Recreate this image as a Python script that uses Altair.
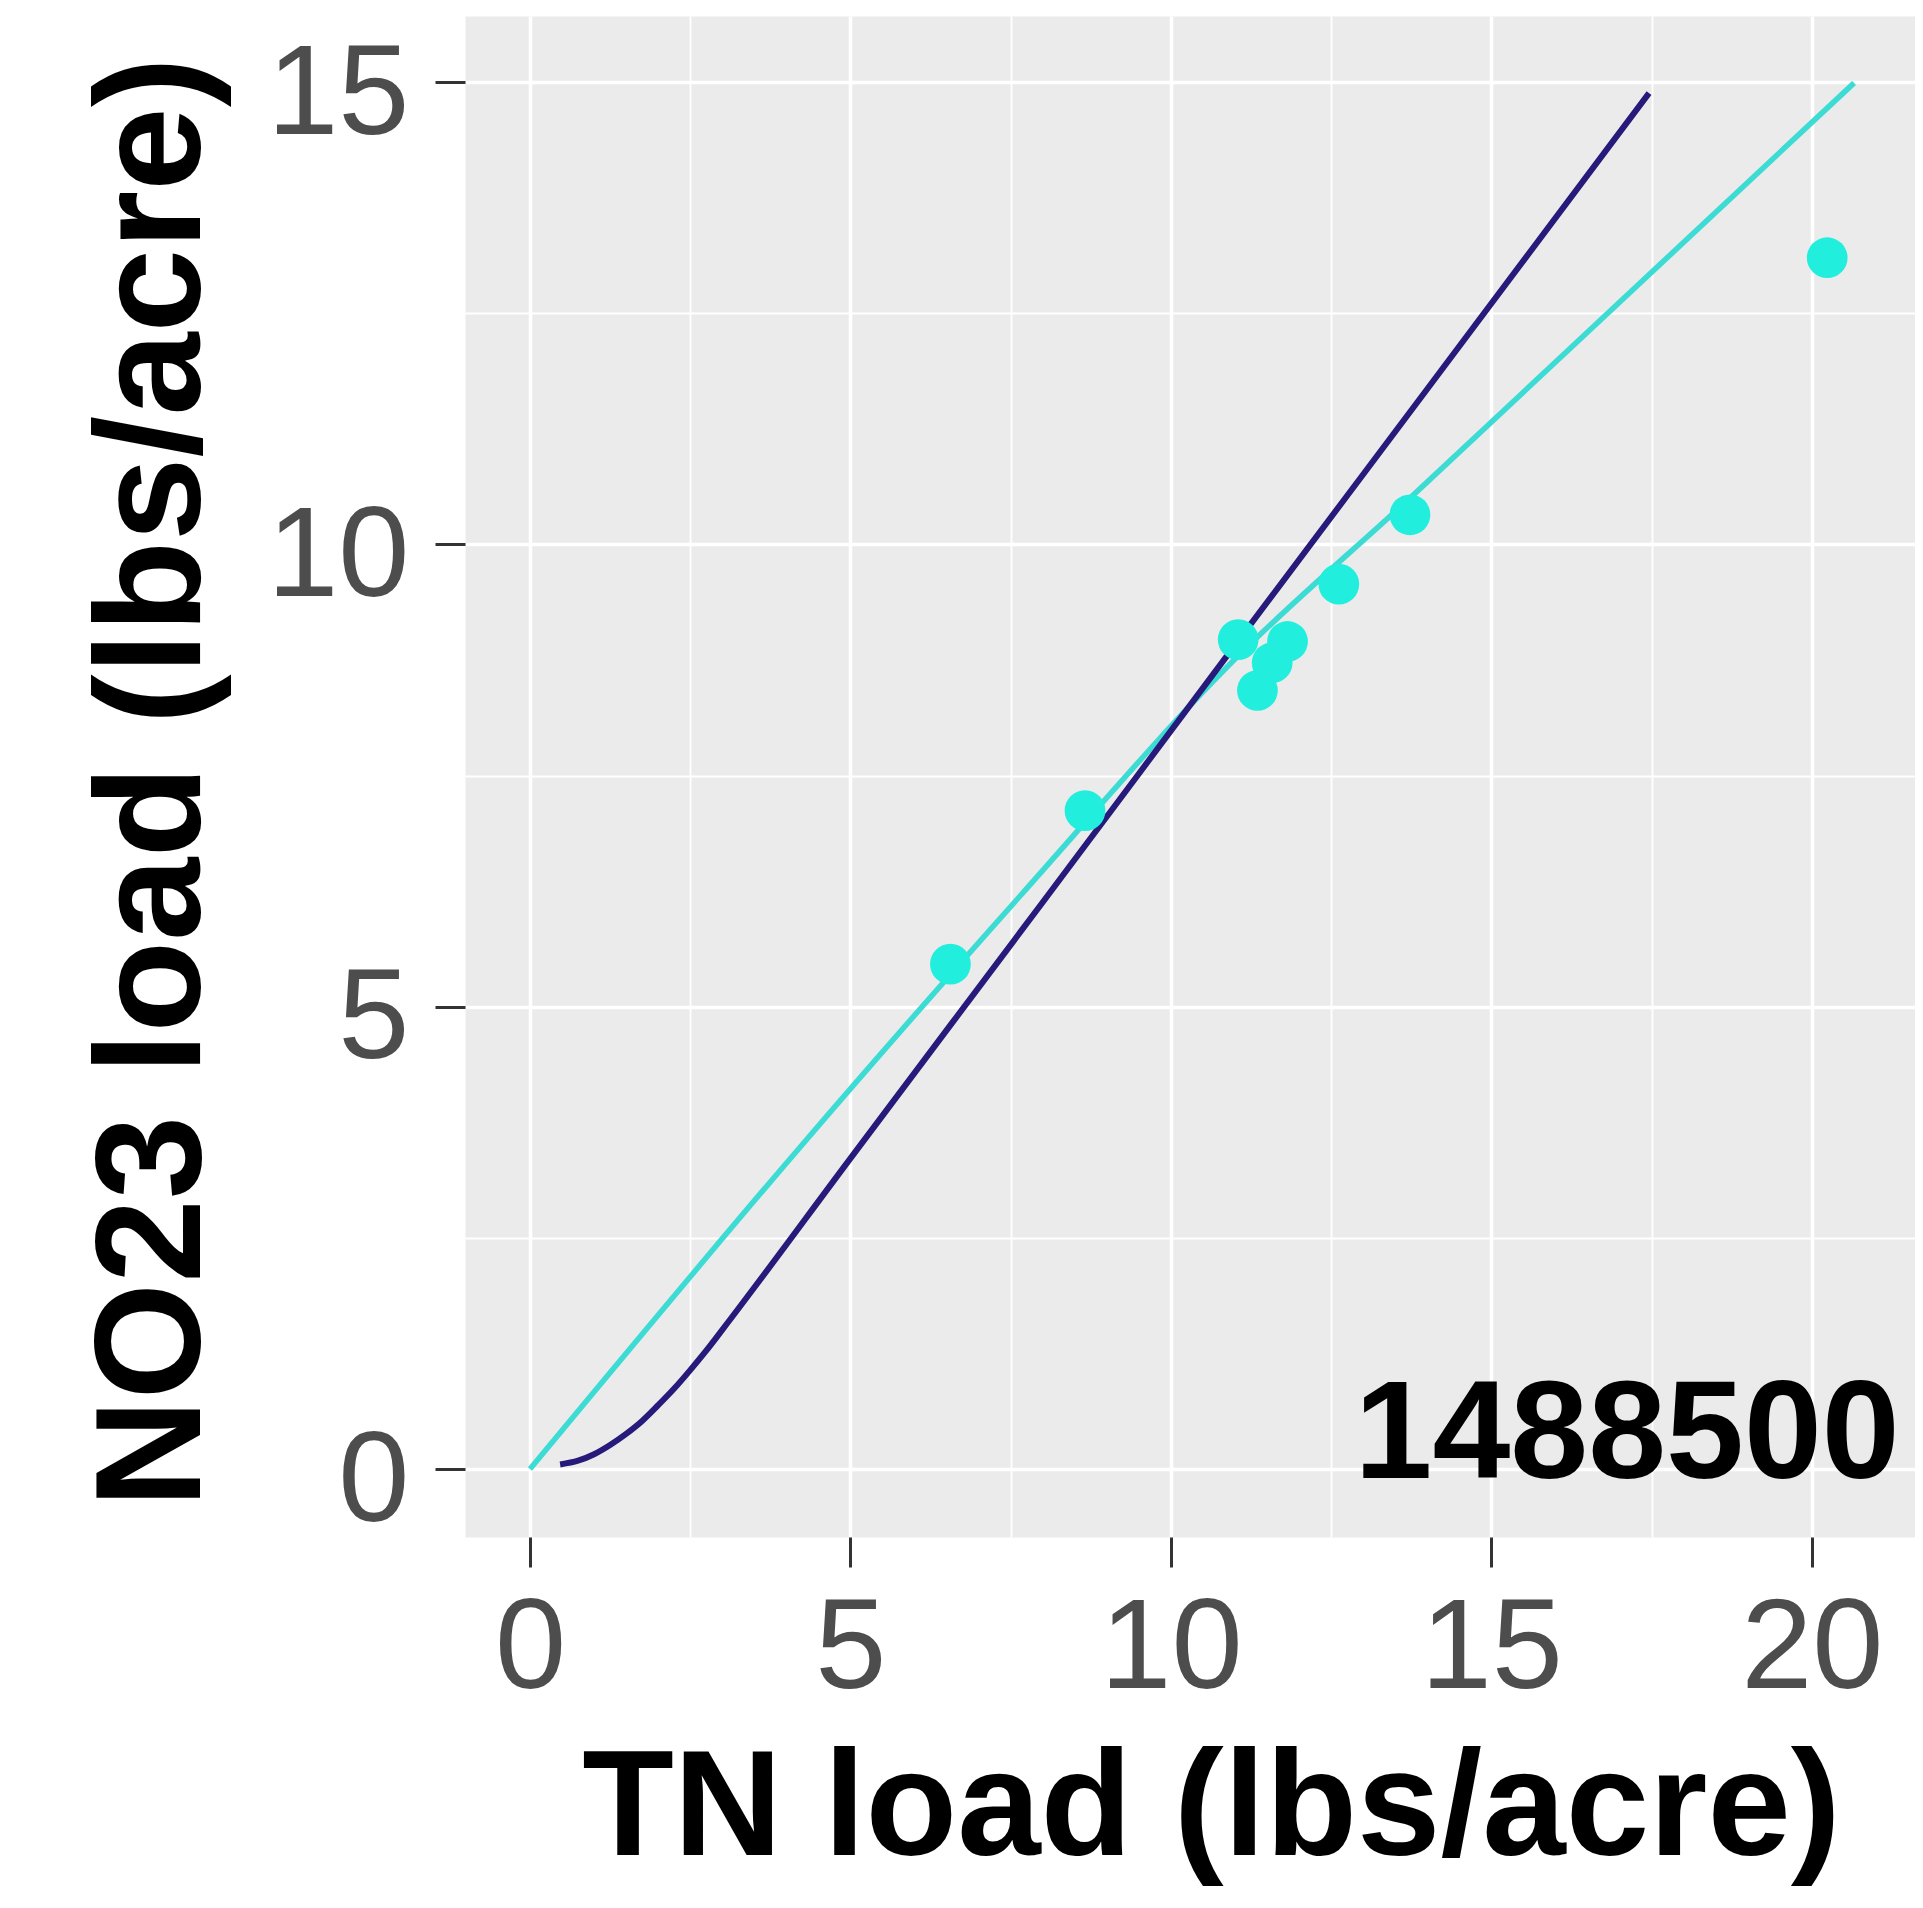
import altair as alt
import pandas as pd

# ---- data ----
tn_points = [6.56, 8.66, 11.05, 11.35, 11.58, 11.82, 12.62, 13.73, 20.24]
no23_points = [5.46, 7.12, 8.97, 8.42, 8.72, 8.95, 9.57, 10.32, 13.10]

cyan_fit_x = [0.0, 4.2, 7.65, 11.0, 13.73, 20.66]
cyan_fit_y = [0.0, 3.47, 6.20, 8.76, 10.50, 14.99]

navy_fit_x = [0.47, 0.75, 1.0, 1.25, 1.5, 1.75, 2.0, 2.25, 2.5, 2.75, 3.0,
              5.0, 8.0, 11.0, 14.0, 17.46]
navy_fit_y = [0.05, 0.09, 0.16, 0.26, 0.38, 0.52, 0.69, 0.87, 1.07, 1.28, 1.505,
              3.36, 6.13, 8.91, 11.68, 14.88]

site_label = ["1488500"]
site_label_x = [21.37]
site_label_y = [-0.10]

x_domain = [-1.014, 21.61]
y_domain = [-0.735, 15.714]
x_major = [0, 5, 10, 15, 20]
x_minor = [2.5, 7.5, 12.5, 17.5]
y_major = [0, 5, 10, 15]
y_minor = [2.5, 7.5, 12.5]

FONT = "Liberation Sans"
PANEL = "#EBEBEB"
CYAN_PT = "#22EEDD"
CYAN_LINE = "#3CDCD4"
NAVY = "#261A7A"

pts = pd.DataFrame({"x": tn_points, "y": no23_points})
cyan = pd.DataFrame({"x": cyan_fit_x, "y": cyan_fit_y})
navy = pd.DataFrame({"x": navy_fit_x, "y": navy_fit_y})
lab = pd.DataFrame({"x": site_label_x, "y": site_label_y, "t": site_label})

xs = alt.Scale(domain=x_domain, nice=False, zero=False)
ys = alt.Scale(domain=y_domain, nice=False, zero=False)

minor_x_axis = alt.Axis(values=x_minor, orient="bottom", grid=True, gridColor="white",
                        gridWidth=1.8, domain=False, ticks=False, labels=False)
minor_y_axis = alt.Axis(values=y_minor, orient="left", grid=True, gridColor="white",
                        gridWidth=1.8, domain=False, ticks=False, labels=False)

major_x_axis = alt.Axis(
    values=x_major, orient="bottom", grid=True, gridColor="white", gridWidth=3.5,
    domain=False, ticks=True, tickColor="#333333", tickWidth=3, tickSize=30,
    labelFont=FONT, labelFontSize=128, labelColor="#4D4D4D", labelPadding=120,
    labelBaseline="alphabetic", labelFlush=False, labelOverlap=False, format="d",
    titleFont=FONT, titleFontSize=150, titleFontWeight="bold", titleColor="black",
    titleX=746, titleY=317, titleBaseline="alphabetic", titleAlign="center",
)
major_y_axis = alt.Axis(
    values=y_major, orient="left", grid=True, gridColor="white", gridWidth=3.5,
    domain=False, ticks=True, tickColor="#333333", tickWidth=3, tickSize=30,
    labelFont=FONT, labelFontSize=128, labelColor="#4D4D4D", labelPadding=26,
    labelAlign="right", labelBaseline="alphabetic", labelOffset=51,
    labelFlush=False, labelOverlap=False, format="d",
    titleFont=FONT, titleFontSize=150, titleFontWeight="bold", titleColor="black",
    titleAngle=270, titleX=-266, titleY=766, titleBaseline="alphabetic", titleAlign="center",
)

cyan_line = alt.Chart(cyan).mark_line(color=CYAN_LINE, strokeWidth=5.5, interpolate="monotone").encode(
    x=alt.X("x:Q", scale=xs, axis=minor_x_axis, title=""),
    y=alt.Y("y:Q", scale=ys, axis=minor_y_axis, title=""),
)

navy_line = alt.Chart(navy).mark_line(color=NAVY, strokeWidth=6, interpolate="monotone").encode(
    x=alt.X("x:Q", scale=xs, axis=major_x_axis, title="TN load (lbs/acre)"),
    y=alt.Y("y:Q", scale=ys, axis=major_y_axis, title="NO23 load (lbs/acre)"),
)

points = alt.Chart(pts).mark_circle(color=CYAN_PT, opacity=1, size=1660).encode(
    x=alt.X("x:Q", scale=xs, axis=None),
    y=alt.Y("y:Q", scale=ys, axis=None),
)

text = alt.Chart(lab).mark_text(font=FONT, fontSize=140, fontWeight="bold", color="black",
                                 align="right", baseline="alphabetic").encode(
    x=alt.X("x:Q", scale=xs, axis=None),
    y=alt.Y("y:Q", scale=ys, axis=None),
    text="t:N",
)

chart = alt.layer(cyan_line, navy_line, points, text).resolve_axis(
    x="independent", y="independent"
).properties(
    width=1450, height=1521,
    padding={"left": 457, "top": 8, "right": 0, "bottom": 355},
    autosize=alt.AutoSizeParams(type="none"),
).configure_view(fill=PANEL, stroke="transparent")

chart.save("out.html", embed_options={"renderer": "svg", "actions": False})
